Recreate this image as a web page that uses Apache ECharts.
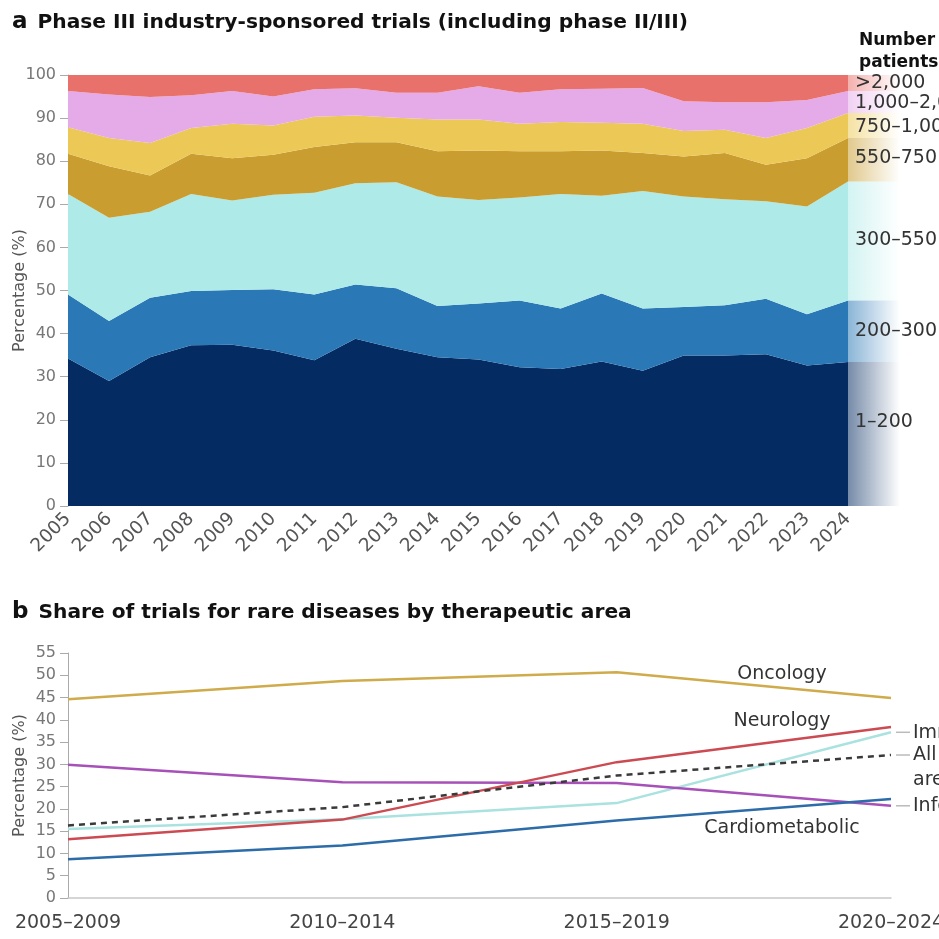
<!DOCTYPE html>
<html>
<head>
<meta charset="utf-8">
<script src="https://cdn.jsdelivr.net/npm/echarts@6/dist/echarts.min.js"></script>
<style>
  html, body { margin: 0; padding: 0; background: #fff; }
  #chart { width: 939px; height: 939px; }
</style>
</head>
<body>
<div id="chart"></div>
<script>
// panel a: share of trials by number of patients (%), stacked
var years = ['2005','2006','2007','2008','2009','2010','2011','2012','2013','2014',
             '2015','2016','2017','2018','2019','2020','2021','2022','2023','2024'];
var p1to200     = [34.2,29.0,34.5,37.3,37.4,36.1,33.8,38.8,36.5,34.5,34.0,32.2,31.8,33.5,31.4,34.9,34.9,35.2,32.6,33.4];
var p200to300   = [14.9,13.9,13.8,12.6,12.7,14.2,15.3,12.6,14.0,11.9,13.0,15.5,14.0,15.8,14.4,11.3,11.7,12.9,11.9,14.3];
var p300to550   = [23.3,24.0,20.0,22.5,20.8,21.9,23.6,23.5,24.6,25.4,24.0,23.9,26.6,22.7,27.3,25.6,24.6,22.6,25.0,27.6];
var p550to750   = [9.3,11.9,8.4,9.3,9.8,9.3,10.6,9.5,9.3,10.5,11.5,10.7,9.9,10.5,8.8,9.3,10.7,8.5,11.2,10.1];
var p750to1000  = [6.2,6.6,7.5,6.0,8.0,6.8,7.0,6.2,5.7,7.4,7.2,6.4,6.8,6.4,6.8,5.9,5.4,6.2,7.0,5.8];
var p1000to2000 = [8.4,10.1,10.7,7.6,7.6,6.7,6.4,6.3,5.8,6.2,7.7,7.2,7.6,7.9,8.3,6.9,6.4,8.3,6.5,5.1];
var pOver2000   = [3.7,4.5,5.1,4.7,3.7,5.0,3.3,3.1,4.1,4.1,2.6,4.1,3.3,3.2,3.0,6.1,6.3,6.3,5.8,3.7];
var bandNames   = ['1–200','200–300','300–550','550–750','750–1,000','1,000–2,000','>2,000'];

// panel b: share of rare-disease trials by therapeutic area (%)
var periods         = ['2005–2009','2010–2014','2015–2019','2020–2024'];
var oncology        = [44.6,48.7,50.7,44.9];
var neurology       = [13.2,17.6,30.5,38.4];
var immunology      = [15.5,17.7,21.3,37.2];
var allAreas        = [16.3,20.4,27.5,32.1];
var infectious      = [29.9,26.0,25.8,20.7];
var cardiometabolic = [8.7,11.8,17.4,22.2];

var bandData   = [p1to200,p200to300,p300to550,p550to750,p750to1000,p1000to2000,pOver2000];
var bandColors = ['#052c62','#2b78b6','#aeeae8','#c99d2f','#ecc956','#e5abe9','#e9716b'];
// label centre y for the right-hand key (crowded top labels are spread out)
var bandLabelY = [422,331,240,158,127,103,83];

var FONT = '"DejaVu Sans", Verdana, sans-serif';

var chart = echarts.init(document.getElementById('chart'));

var seriesA = bandData.map(function (d, i) {
    return {
        name: bandNames[i],
        type: 'line',
        stack: 'pct',
        xAxisIndex: 0,
        yAxisIndex: 0,
        data: d,
        symbol: 'none',
        lineStyle: { width: 0 },
        areaStyle: { color: bandColors[i], opacity: 1 },
        silent: true,
        z: 2
    };
});

function lineB(name, data, color, dashed) {
    return {
        name: name,
        type: 'line',
        xAxisIndex: 1,
        yAxisIndex: 1,
        data: data,
        symbol: 'none',
        lineStyle: { color: color, width: 2.5, type: dashed ? [6, 5] : 'solid' },
        silent: true,
        z: 3
    };
}

var seriesB = [
    lineB('Oncology', oncology, '#d0ab4c'),
    lineB('Immunology', immunology, '#a9e2df'),
    lineB('Infectious diseases', infectious, '#a650b8'),
    lineB('Cardiometabolic', cardiometabolic, '#2c6ca8'),
    lineB('Neurology', neurology, '#cc4a52'),
    lineB('All areas', allAreas, '#3a3a3a', true)
];

var titleRich = {
    a: { fontFamily: FONT, fontWeight: 'bold', fontSize: 23, color: '#111' },
    t: { fontFamily: FONT, fontWeight: 'bold', fontSize: 20.2, color: '#111' }
};

function yAxisFor(grid, max, step) {
    return {
        gridIndex: grid,
        type: 'value',
        min: 0, max: max, interval: step,
        name: 'Percentage (%)',
        nameLocation: 'middle',
        nameGap: 40,
        nameMoveOverlap: false,
        nameTextStyle: { fontFamily: FONT, fontSize: 16, color: '#555' },
        axisLine: { show: true, lineStyle: { color: '#aaa' } },
        axisTick: { show: true, length: 8, lineStyle: { color: '#aaa' } },
        axisLabel: { fontFamily: FONT, fontSize: 16, color: '#777', margin: 12 },
        splitLine: { show: false }
    };
}

chart.setOption({
    animation: false,
    backgroundColor: '#fff',
    title: [
        {
            left: 7, top: 6,
            text: '{a|a}  {t|Phase III industry-sponsored trials (including phase II/III)}',
            textStyle: { rich: titleRich }
        },
        {
            left: 7, top: 596,
            text: '{a|b}  {t|Share of trials for rare diseases by therapeutic area}',
            textStyle: { rich: titleRich }
        },
        {
            left: 854, top: 25,
            text: 'Number of\npatients',
            textStyle: { fontFamily: FONT, fontWeight: 'bold', fontSize: 17, lineHeight: 22, color: '#111' }
        }
    ],
    grid: [
        { left: 68, right: 91, top: 75, height: 431, outerBoundsMode: 'none' },
        { left: 68, right: 48, top: 653, height: 245, outerBoundsMode: 'none' }
    ],
    xAxis: [
        {
            gridIndex: 0,
            type: 'category',
            data: years,
            boundaryGap: false,
            axisLine: { show: false },
            axisTick: { show: false },
            axisLabel: { rotate: 45, fontFamily: FONT, fontSize: 18.5, color: '#555', margin: 10 }
        },
        {
            gridIndex: 1,
            type: 'category',
            data: periods,
            boundaryGap: false,
            axisLine: { lineStyle: { color: '#c8c8c8', width: 1.5 } },
            axisTick: { show: false },
            axisLabel: { fontFamily: FONT, fontSize: 19, color: '#444', margin: 16 }
        }
    ],
    yAxis: [yAxisFor(0, 100, 10), yAxisFor(1, 55, 5)],
    series: seriesA.concat(seriesB)
});

// right-hand key for panel a: fading strips + labels
var graphics = [];
var last = years.length - 1;
var cum = 0;
bandData.forEach(function (d, i) {
    var lo = chart.convertToPixel({ gridIndex: 0 }, [last, cum]);
    cum += d[last];
    var hi = chart.convertToPixel({ gridIndex: 0 }, [last, cum]);
    var c = echarts.color.modifyAlpha(bandColors[i], 0.55);
    var c0 = echarts.color.modifyAlpha(bandColors[i], 0);
    graphics.push({
        type: 'rect', silent: true, z: 1,
        shape: { x: lo[0], y: hi[1], width: 52, height: lo[1] - hi[1] },
        style: { fill: new echarts.graphic.LinearGradient(0, 0, 1, 0, [
            { offset: 0, color: c }, { offset: 1, color: c0 }]) }
    });
    graphics.push({
        type: 'text', silent: true, z: 5,
        x: 855, y: bandLabelY[i],
        style: { text: bandNames[i], font: '19px ' + FONT, fill: '#333', verticalAlign: 'middle' }
    });
});

// annotations for panel b
function noteAt(text, x, y) {
    graphics.push({
        type: 'text', silent: true, z: 5, x: x, y: y,
        style: { text: text, font: '19px ' + FONT, fill: '#333', align: 'center', verticalAlign: 'middle' }
    });
}
noteAt('Oncology', 782, 674);
noteAt('Neurology', 782, 721);
noteAt('Cardiometabolic', 782, 828);

// end labels with short leader lines
[[immunology, 'Immunology'], [allAreas, 'All\nareas'], [infectious, 'Infectious diseases']].forEach(function (e) {
    var p = chart.convertToPixel({ gridIndex: 1 }, [periods.length - 1, e[0][periods.length - 1]]);
    graphics.push({
        type: 'line', silent: true, z: 5,
        shape: { x1: p[0] + 5, y1: p[1], x2: p[0] + 19, y2: p[1] },
        style: { stroke: '#bbb', lineWidth: 1.5 }
    });
    graphics.push({
        type: 'text', silent: true, z: 5, x: p[0] + 22, y: p[1] - 12,
        style: { text: e[1], font: '19px ' + FONT, fill: '#333', verticalAlign: 'top', lineHeight: 25 }
    });
});

chart.setOption({ graphic: graphics });
</script>
</body>
</html>
